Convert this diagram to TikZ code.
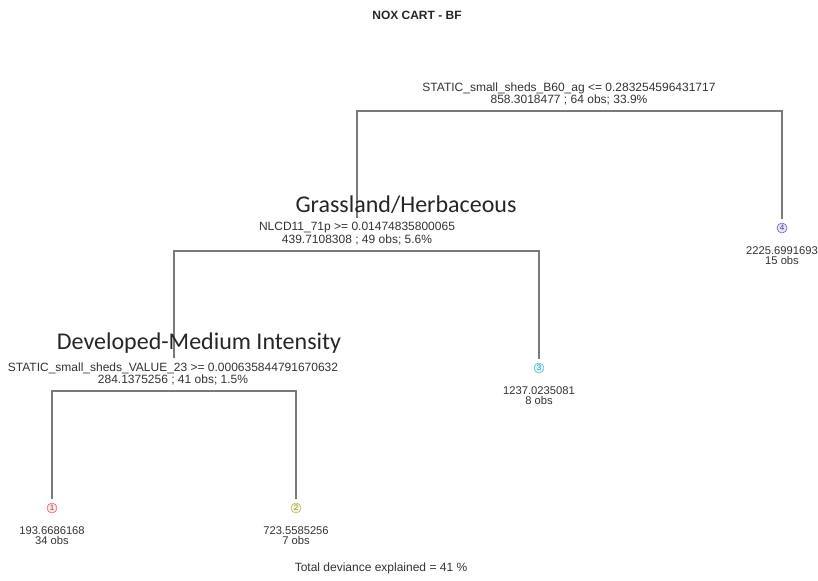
\documentclass[tikz,border=0pt]{standalone}
\usepackage{fontspec}
\setmainfont{Liberation Sans}
\newfontfamily\bigfont{Carlito}
\usetikzlibrary{positioning}

\definecolor{branchgray}{HTML}{7A7A7A}
\definecolor{leafred}{HTML}{E05A5A}
\definecolor{leafyellow}{HTML}{B8B83A}
\definecolor{leafcyan}{HTML}{3CB8D8}
\definecolor{leafpurple}{HTML}{6A4CC0}

\begin{document}
\begin{tikzpicture}[
    x=0.75pt, y=-0.75pt,
    branch/.style={draw=branchgray, line width=1.1pt},
    splitlab/.style={align=center, inner sep=0pt, font=\fontsize{9}{8}\selectfont, text=black!80},
    biglab/.style={inner sep=0pt, font=\bigfont\fontsize{18}{20}\selectfont, text=black!85},
    leaf/.style={circle, draw=#1, fill=#1!15, text=#1!75!black, inner sep=0pt, minimum size=7.5pt, font=\fontsize{6}{6}\selectfont},
    leafval/.style={align=center, inner sep=0pt, font=\fontsize{8.4}{8}\selectfont, text=black!80}
]
    \useasboundingbox (0,0) rectangle (818,581);
    \node[font=\bfseries\fontsize{9}{10}\selectfont, text=black!85] (title) at (417,15) {NOX CART - BF};

    % split points and bars
    \coordinate (root) at (569,111);
    \coordinate (n2) at (357,218);
    \coordinate (n2s) at (357,251);
    \coordinate (n3) at (174,358);
    \coordinate (n3s) at (174,391);

    % leaves
    \foreach \i/\x/\y/\c/\v/\o in {1/52/508/leafred/193.6686168/34,
                                     2/296/508/leafyellow/723.5585256/7,
                                     3/539/368/leafcyan/1237.0235081/8,
                                     4/782/228/leafpurple/2225.6991693/15} {
        \node[leaf=\c] (c\i) at (\x,\y) {\i};
        \node[leafval] (v\i) at ({\x},{\y+27.5}) {\v\\\o{} obs};
    }

    % branches
    \draw[branch] (root) -| (n2);
    \draw[branch, shorten >=3pt] (root) -| (c4.north);
    \draw[branch] (n2s) -| (n3);
    \draw[branch, shorten >=3pt] (n2s) -| (c3.north);
    \draw[branch, shorten >=3pt] (n3s) -| (c1.north);
    \draw[branch, shorten >=3pt] (n3s) -| (c2.north);

    % split labels
    \node[splitlab] (rootlab) at (569,94) {STATIC\_small\_sheds\_B60\_ag <= 0.283254596431717\\858.3018477 ; 64 obs; 33.9\%};
    \node[biglab] (grass) at (406,205) {Grassland/Herbaceous};
    \node[splitlab] (n2lab) at (357,233.5) {NLCD11\_71p >= 0.01474835800065\\439.7108308 ; 49 obs; 5.6\%};
    \node[biglab] (devmed) at (199,343) {Developed-Medium Intensity};
    \node[splitlab] (n3lab) at (173,374) {STATIC\_small\_sheds\_VALUE\_23 >= 0.000635844791670632\\284.1375256 ; 41 obs; 1.5\%};

    \node[splitlab] (total) at (381,568) {Total deviance explained = 41 \%};
\end{tikzpicture}
\end{document}
